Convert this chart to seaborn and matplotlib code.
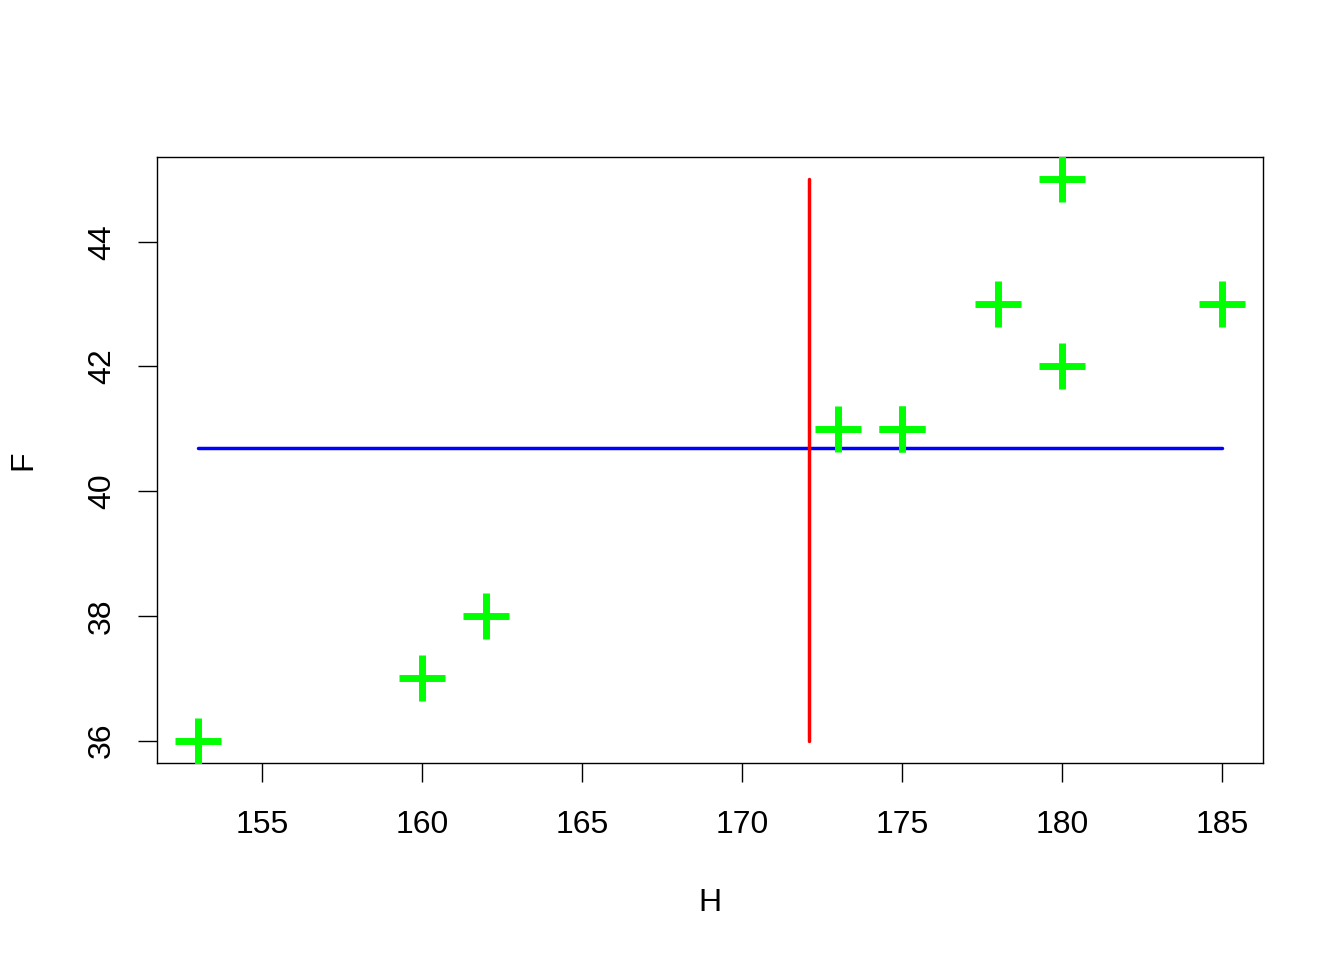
import numpy as np
import pandas as pd
import matplotlib
matplotlib.use('Agg')
import matplotlib.pyplot as plt
import seaborn as sns

# Datos: estatura (H) y talla (F)
H = [153, 160, 162, 173, 175, 175, 178, 180, 180, 185]
F = [36, 37, 38, 41, 41, 41, 43, 45, 42, 43]
x_ticks = [155, 160, 165, 170, 175, 180, 185]
y_ticks = [36, 38, 40, 42, 44]

df = pd.DataFrame({'H': H, 'F': F})

sns.set_style('white')
plt.rcParams['font.family'] = ['Liberation Sans', 'DejaVu Sans']
plt.rcParams['text.color'] = 'black'
plt.rcParams['axes.labelcolor'] = 'black'
plt.rcParams['xtick.color'] = 'black'
plt.rcParams['ytick.color'] = 'black'

fig = plt.figure(figsize=(13.44, 9.6), dpi=100)
ax = fig.add_axes([0.1168, 0.2052, 0.8229, 0.6313])

sns.scatterplot(data=df, x='H', y='F', marker='+', s=1090, color='#00FF00',
                linewidth=5, ax=ax, zorder=3)

# Líneas de las medias
ax.plot([df['H'].min(), df['H'].max()], [df['F'].mean()] * 2, color='#0000FF', lw=2.5)
ax.plot([df['H'].mean()] * 2, [df['F'].min(), df['F'].max()], color='#FF0000', lw=2.5)

rx = df['H'].max() - df['H'].min()
ry = df['F'].max() - df['F'].min()
ax.set_xlim(df['H'].min() - 0.04 * rx, df['H'].max() + 0.04 * rx)
ax.set_ylim(df['F'].min() - 0.04 * ry, df['F'].max() + 0.04 * ry)

ax.set_xticks(x_ticks)
ax.set_yticks(y_ticks)
ax.tick_params(axis='both', direction='out', length=13.7, width=1, labelsize=23,
               labelcolor='black', color='black', bottom=True, left=True)
ax.tick_params(axis='x', pad=20)
ax.tick_params(axis='y', pad=15)
for lab in ax.get_yticklabels():
    lab.set_rotation(90)
    lab.set_va('center')
for sp in ax.spines.values():
    sp.set_color('black')
    sp.set_linewidth(1)

ax.set_xlabel('H', fontsize=23, labelpad=35, color='black')
ax.set_ylabel('F', fontsize=23, labelpad=35, color='black')

fig.savefig('out.png', dpi=100)
